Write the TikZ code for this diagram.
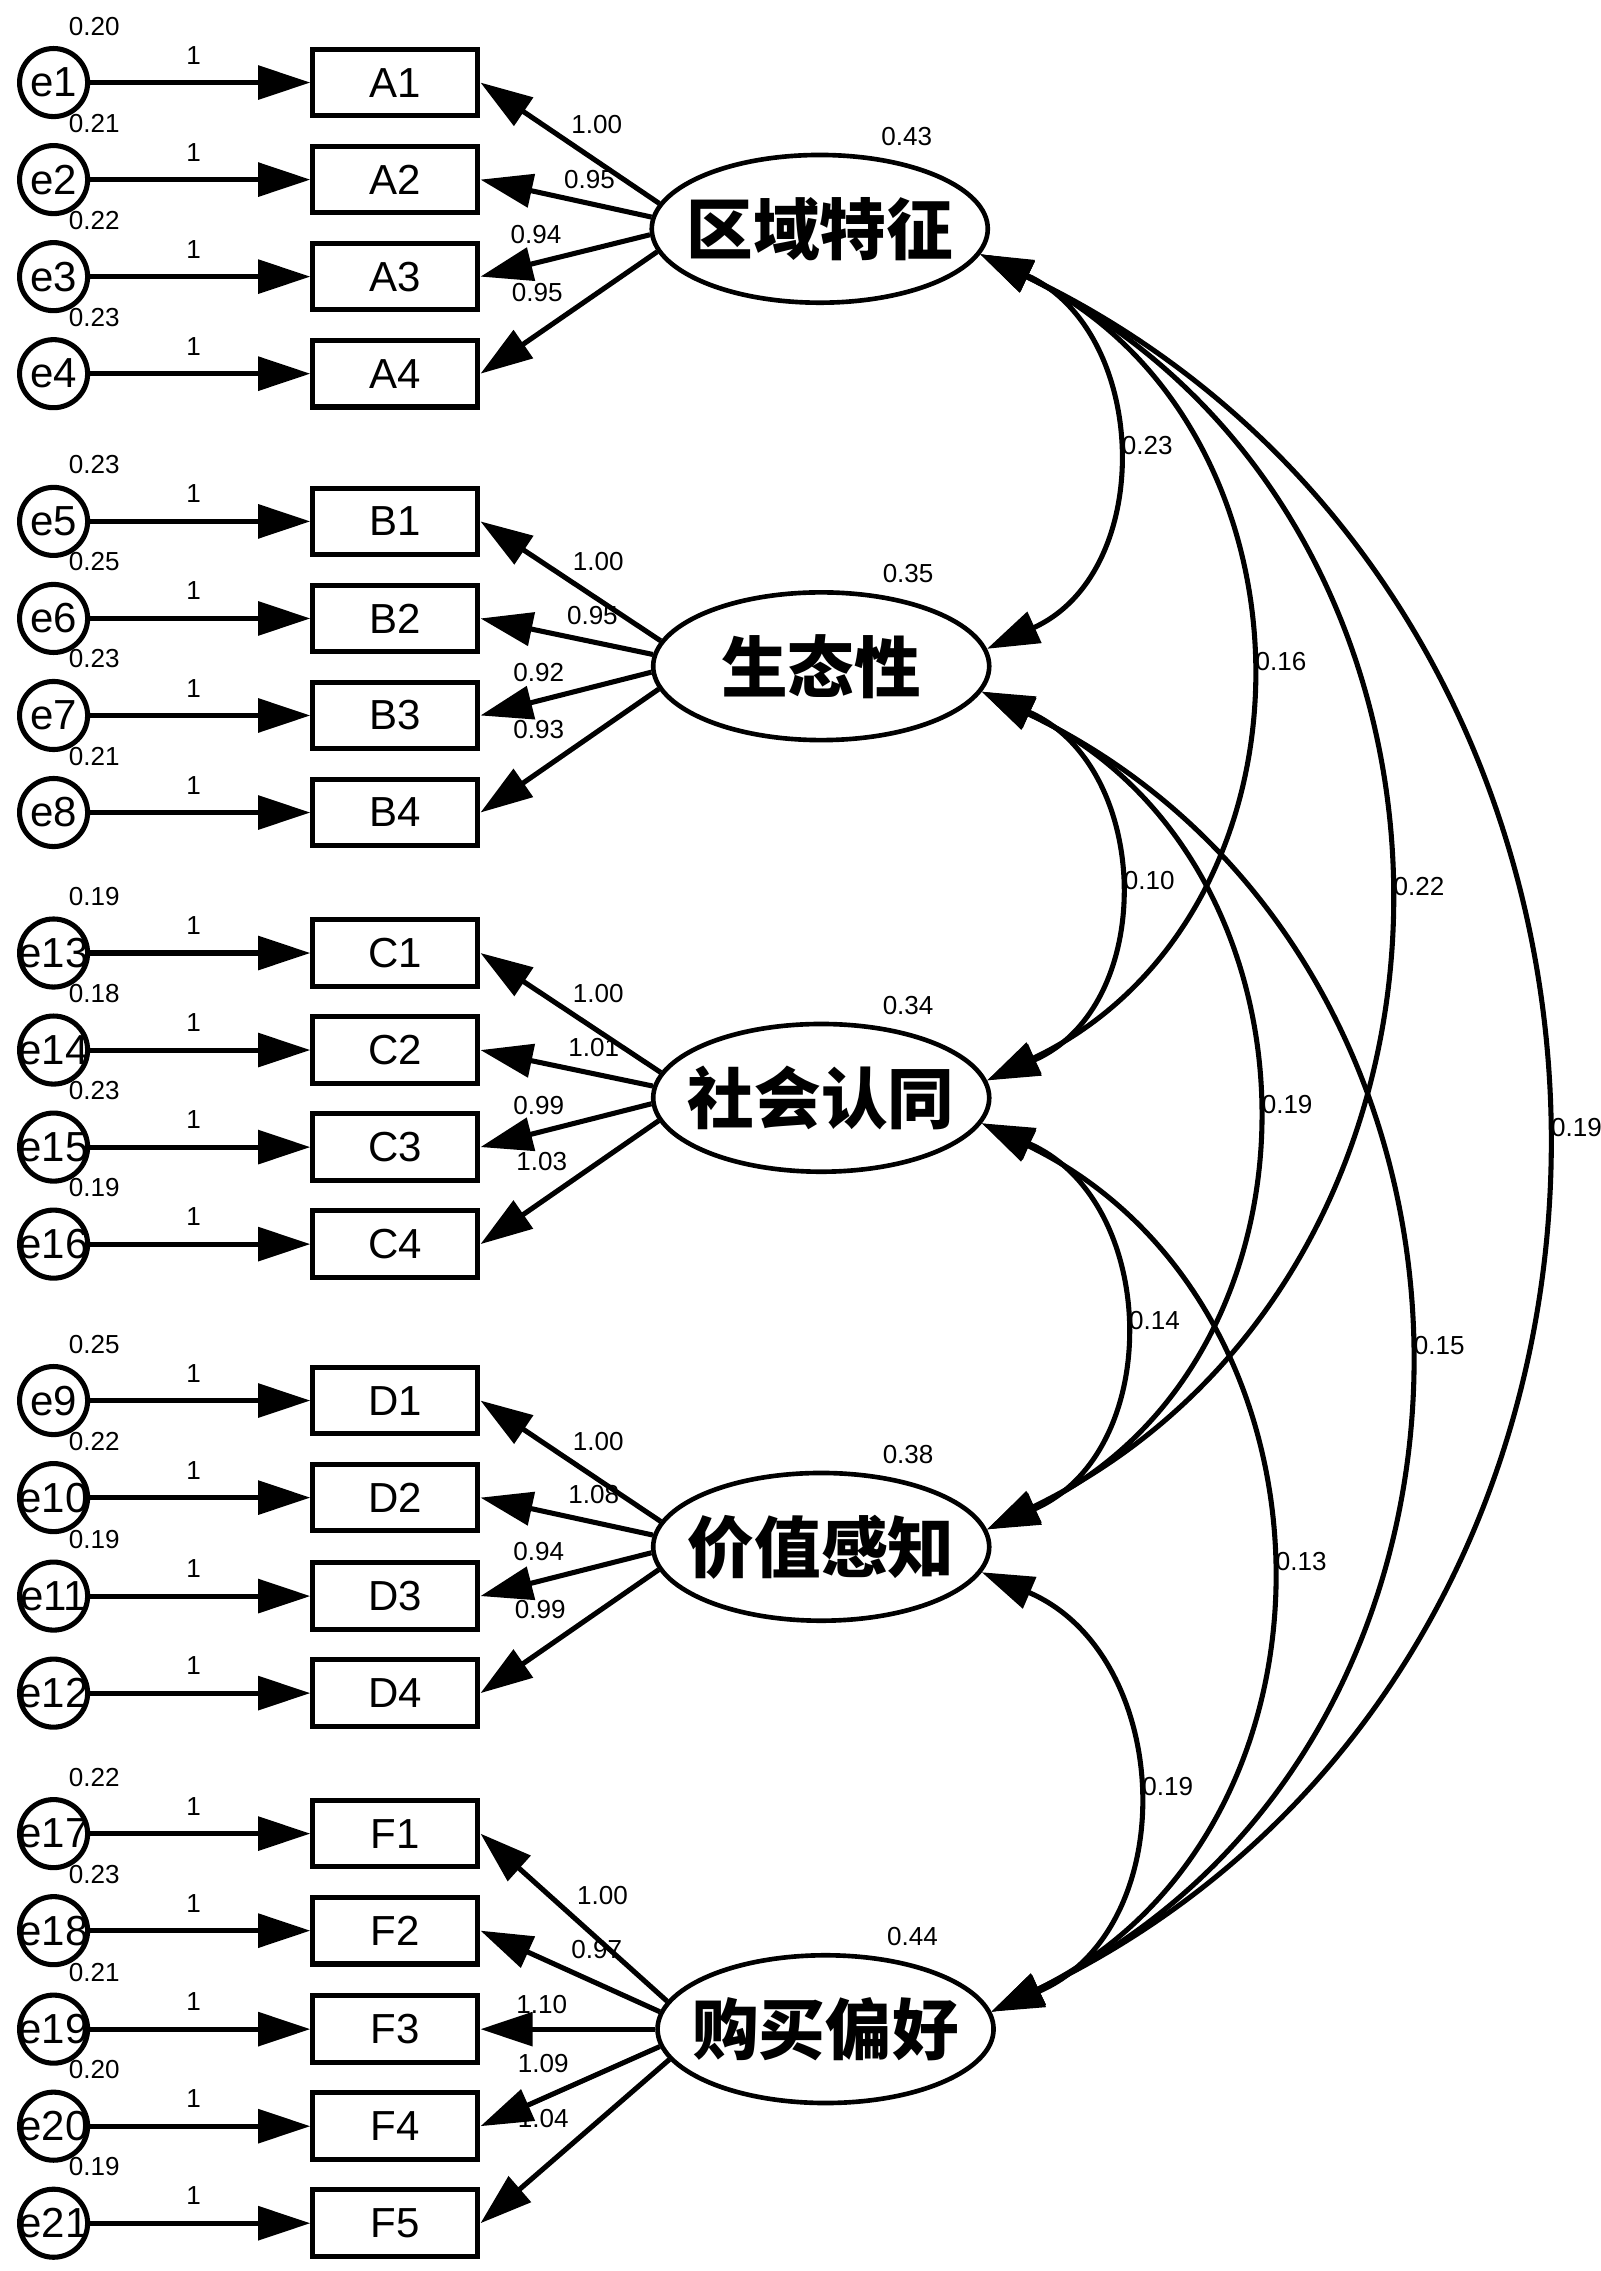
\documentclass[tikz,border=0pt]{standalone}
\usepackage{fontspec}
\setmainfont{Liberation Sans}
\newfontfamily\cjk{Noto Sans CJK SC}
\usetikzlibrary{arrows.meta, shapes.geometric}
\newcommand{\nowd}[1]{\makebox[0pt]{#1}}

\tikzset{
  obs/.style={draw, line width=3.5pt, minimum width=114pt, minimum height=46pt, inner sep=0pt, font=\fontsize{29}{31}\selectfont},
  err/.style={draw, circle, line width=3.5pt, minimum size=47pt, inner sep=0pt, font=\fontsize{29}{31}\selectfont},
  latent/.style={draw, ellipse, line width=3.2pt, minimum width=232pt, minimum height=102pt, inner sep=0pt, font=\fontsize{46}{50}\selectfont\cjk\bfseries},
  num/.style={inner sep=1pt, font=\fontsize{18}{19}\selectfont},
  cvl/.style={num, pos=0.5, anchor=west, xshift=5pt, yshift=4pt},
  arr/.style={line width=3.5pt, -{Triangle[length=36pt, width=23pt]}},
  cov/.style={line width=3.5pt, {Triangle[length=36pt, width=23pt]}-{Triangle[length=36pt, width=23pt]}},
}

\begin{document}
\begin{tikzpicture}[x=1pt, y=-1pt]
  \useasboundingbox (0,0) rectangle (1105,1568);

  % latent factors
  \node[latent] (LA) at (566,158) {\nowd{区域特征}};
  \node[latent] (LB) at (567,460) {\nowd{生态性}};
  \node[latent] (LC) at (567,758) {\nowd{社会认同}};
  \node[latent] (LD) at (567,1068) {\nowd{价值感知}};
  \node[latent] (LF) at (570,1401) {\nowd{购买偏好}};

  % factor variances
  \node[num] at ([shift={(60,-64)}]LA) {0.43};
  \node[num] at ([shift={(60,-64)}]LB) {0.35};
  \node[num] at ([shift={(60,-64)}]LC) {0.34};
  \node[num] at ([shift={(60,-64)}]LD) {0.38};
  \node[num] at ([shift={(60,-64)}]LF) {0.44};

  % indicators with their errors and loadings
  \foreach \b/\e/\y/\ev/\lat/\ang/\ld/\lx/\ly in {
      A1/1/57/0.20/LA/171/1.00/412/86, A2/2/124/0.21/LA/176/0.95/407/124,
      A3/3/191/0.22/LA/182/0.94/370/162, A4/4/258/0.23/LA/188/0.95/371/202,
      B1/5/360/0.23/LB/171/1.00/413/388, B2/6/427/0.25/LB/176/0.95/409/425,
      B3/7/494/0.23/LB/182/0.92/372/464, B4/8/561/0.21/LB/188/0.93/372/504,
      C1/13/658/0.19/LC/171/1.00/413/686, C2/14/725/0.18/LC/176/1.01/410/723,
      C3/15/792/0.23/LC/182/0.99/372/763, C4/16/859/0.19/LC/188/1.03/374/802,
      D1/9/967/0.25/LD/171/1.00/413/995, D2/10/1034/0.22/LD/176/1.08/410/1032,
      D3/11/1102/0.19/LD/182/0.94/372/1071, D4/12/1169//LD/188/0.99/373/1111,
      F1/17/1266/0.22/LF/170/1.00/416/1309, F2/18/1333/0.23/LF/174/0.97/412/1346,
      F3/19/1401/0.21/LF/180/1.10/374/1384, F4/20/1468/0.20/LF/186/1.09/375/1425,
      F5/21/1535/0.19/LF/191/1.04/375/1463} {
    \node[err] (e\e) at (37,\y) {\nowd{e\e}};
    \node[obs] (\b) at (273,\y) {\b};
    \draw[arr] (e\e) -- node[num, pos=0.47, above=10pt] {1} (\b);
    \node[num] at (65,\y-39) {\ev};
    \draw[arr] (\lat.\ang) -- (\b.east);
    \node[num] at (\lx,\ly) {\ld};
  }

  % covariances between factors
  \draw[cov] (LA.-9) .. controls +(117,53) and +(117,-53) .. node[cvl] {0.23} (LB.6);
  \draw[cov] (LB.-9) .. controls +(118,51) and +(118,-51) .. node[cvl] {0.10} (LC.6);
  \draw[cov] (LC.-9) .. controls +(123,53) and +(123,-53) .. node[cvl] {0.14} (LD.6);
  \draw[cov] (LD.-9) .. controls +(133,57) and +(133,-57) .. node[cvl] {0.19} (LF.6);
  \draw[cov] (LA.-9) .. controls +(240,115) and +(240,-115) .. node[cvl] {0.16} (LC.6);
  \draw[cov] (LB.-9) .. controls +(245,115) and +(245,-115) .. node[cvl] {0.19} (LD.6);
  \draw[cov] (LC.-9) .. controls +(256,124) and +(256,-124) .. node[cvl] {0.13} (LF.6);
  \draw[cov] (LA.-9) .. controls +(367,179) and +(367,-179) .. node[cvl] {0.22} (LD.6);
  \draw[cov] (LB.-9) .. controls +(383,183) and +(383,-183) .. node[cvl] {0.15} (LF.6);
  \draw[cov] (LA.-9) .. controls +(510,244) and +(510,-244) .. node[cvl] {0.19} (LF.6);
\end{tikzpicture}
\end{document}
